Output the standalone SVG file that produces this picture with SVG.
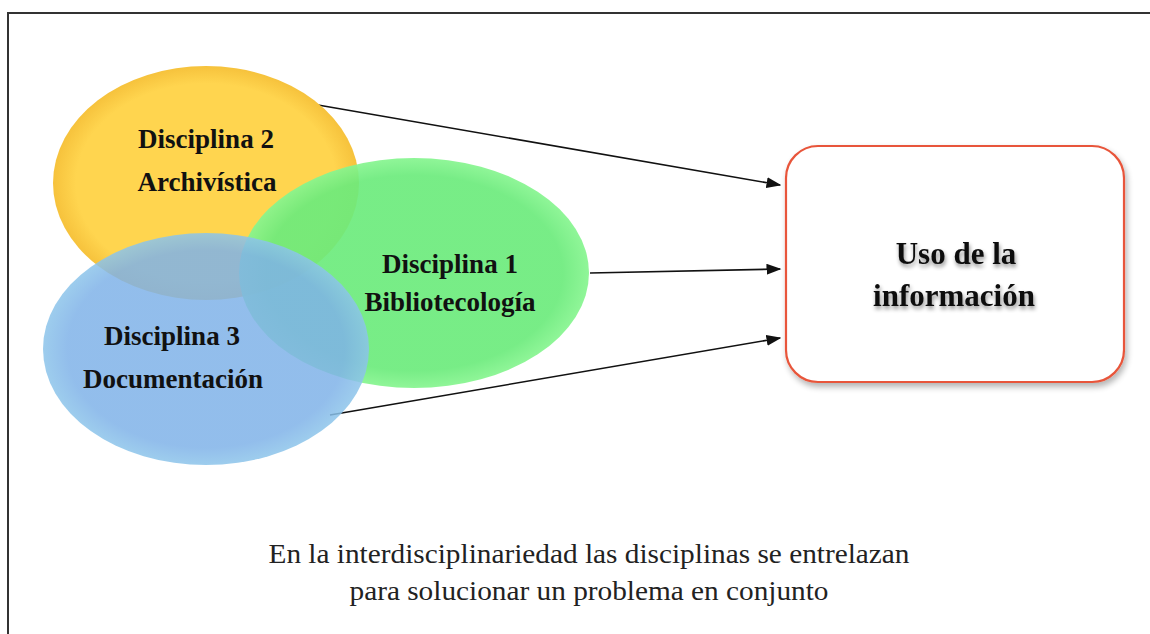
<svg xmlns="http://www.w3.org/2000/svg" width="1150" height="634" viewBox="0 0 1150 634">
<defs>
<style>
.lbl{font-family:'Liberation Serif','DejaVu Serif',serif;font-weight:bold;font-size:27px;fill:#111;text-anchor:middle}
.big{font-size:31px}
.cap{font-family:'Liberation Serif','DejaVu Serif',serif;font-size:27px;fill:#222;text-anchor:middle}
.conn line{stroke:#111;stroke-width:1.6;marker-end:url(#ah)}
</style>
<marker id="ah" viewBox="0 0 10 10" refX="9" refY="5" markerWidth="15" markerHeight="11" orient="auto" markerUnits="userSpaceOnUse" preserveAspectRatio="none">
<path d="M0,0 L10,5 L0,10 z" fill="#111"/>
</marker>
<radialGradient id="gy" cx="50%" cy="50%" r="50%">
<stop offset="0.85" stop-color="#FFD54F"/>
<stop offset="1" stop-color="#F6C23C"/>
</radialGradient>
<radialGradient id="gg" cx="50%" cy="50%" r="50%">
<stop offset="0.85" stop-color="#6CEB7C" stop-opacity="0.92"/>
<stop offset="1" stop-color="#86F58F" stop-opacity="0.92"/>
</radialGradient>
<radialGradient id="gb" cx="50%" cy="50%" r="50%">
<stop offset="0.85" stop-color="#7FB2E8" stop-opacity="0.85"/>
<stop offset="1" stop-color="#8CC4EA" stop-opacity="0.85"/>
</radialGradient>
<filter id="sh" x="-10%" y="-10%" width="125%" height="130%">
<feGaussianBlur in="SourceAlpha" stdDeviation="3"/>
<feOffset dx="2" dy="4" result="b"/>
<feComponentTransfer><feFuncA type="linear" slope="0.3"/></feComponentTransfer>
<feMerge><feMergeNode/><feMergeNode in="SourceGraphic"/></feMerge>
</filter>
<filter id="tsh" x="-10%" y="-20%" width="120%" height="160%">
<feGaussianBlur in="SourceAlpha" stdDeviation="2"/>
<feOffset dx="1" dy="3"/>
<feComponentTransfer><feFuncA type="linear" slope="0.45"/></feComponentTransfer>
<feMerge><feMergeNode/><feMergeNode in="SourceGraphic"/></feMerge>
</filter>
</defs>
<rect width="1150" height="634" fill="#fff"/>
<path d="M8,640 L8,13 L1160,13" fill="none" stroke="#333" stroke-width="2"/>

<g id="connectors" class="conn">
<line x1="318" y1="105" x2="780" y2="185"/>
<line x1="590" y1="273" x2="780" y2="269"/>
<line x1="330" y1="415" x2="780" y2="338"/>
</g>

<g id="disciplina2">
<ellipse cx="206" cy="183" rx="153" ry="117" fill="url(#gy)"/>
</g>
<g id="disciplina1">
<ellipse cx="414" cy="273" rx="175" ry="115" fill="url(#gg)"/>
</g>
<g id="disciplina3">
<ellipse cx="206" cy="349" rx="163" ry="116" fill="url(#gb)"/>
</g>
<g id="labels">
<text class="lbl" x="206" y="148">Disciplina 2</text>
<text class="lbl" x="207" y="191">Archivística</text>
<text class="lbl" x="450" y="273">Disciplina 1</text>
<text class="lbl" x="450" y="311">Bibliotecología</text>
<text class="lbl" x="172" y="345">Disciplina 3</text>
<text class="lbl" x="173" y="388">Documentación</text>
</g>

<g id="uso">
<rect x="786" y="146" width="338" height="236" rx="32" fill="#fff" stroke="#E8553A" stroke-width="2.2" filter="url(#sh)"/>
<g filter="url(#tsh)">
<text class="lbl big" x="956" y="264">Uso de la</text>
<text class="lbl big" x="954" y="306">información</text>
</g>
</g>

<g id="caption">
<text class="cap" x="589" y="563" textLength="641" lengthAdjust="spacingAndGlyphs">En la interdisciplinariedad las disciplinas se entrelazan</text>
<text class="cap" x="589" y="600" textLength="479" lengthAdjust="spacingAndGlyphs">para solucionar un problema en conjunto</text>
</g>
</svg>
